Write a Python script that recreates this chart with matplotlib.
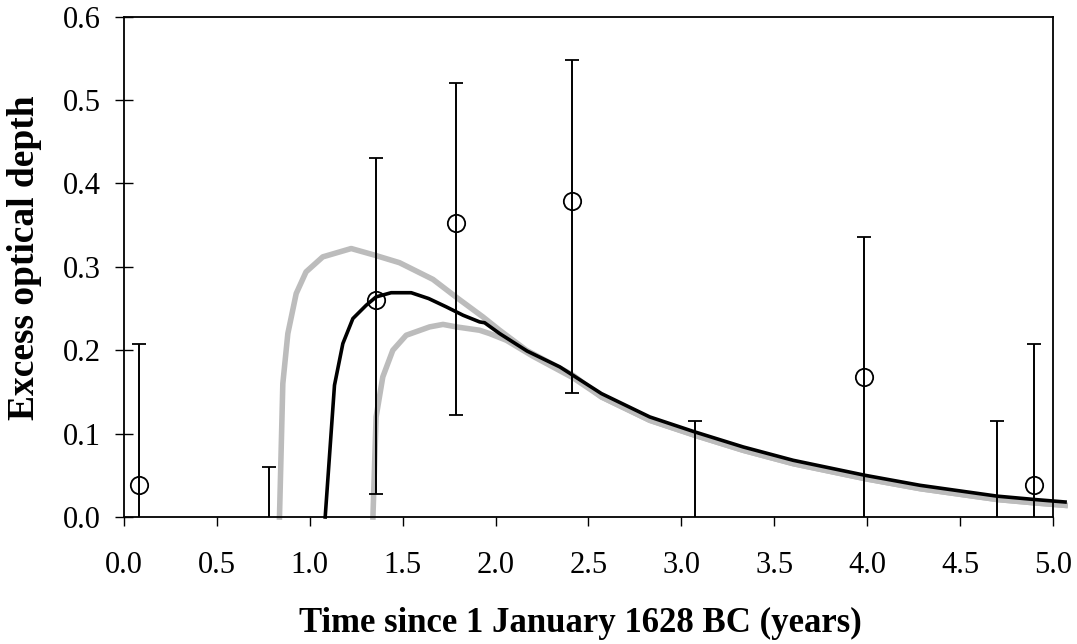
"""
Excess optical depth after 1 January 1628 BC: model curve with bounds and observations.
"""

import matplotlib.pyplot as plt

plt.rcParams["font.family"] = ["Liberation Serif", "DejaVu Serif"]

# ---------------------------------------------------------------------
# data
# ---------------------------------------------------------------------
model_t = [1.083, 1.133, 1.178, 1.232, 1.304, 1.357, 1.438, 1.546, 1.64, 1.735,
           1.825, 1.914, 1.941, 2.022, 2.17, 2.346, 2.57, 2.83, 3.073, 3.333,
           3.602, 3.989, 4.285, 4.70, 4.90, 5.065]
model_tau = [0.0, 0.158, 0.208, 0.238, 0.254, 0.264, 0.269, 0.269, 0.262, 0.252,
             0.242, 0.234, 0.233, 0.220, 0.199, 0.180, 0.148, 0.120, 0.102, 0.084,
             0.068, 0.050, 0.038, 0.025, 0.021, 0.018]

upper_t = [0.837, 0.855, 0.882, 0.927, 0.980, 1.070, 1.223, 1.35, 1.483, 1.663,
           1.798, 1.932, 2.022, 2.166, 2.417, 2.57, 2.83, 3.073, 3.333, 3.602,
           3.989, 4.285, 4.70, 4.90, 5.065]
upper_tau = [0.0, 0.160, 0.220, 0.268, 0.294, 0.312, 0.322, 0.314, 0.305, 0.285,
             0.262, 0.240, 0.224, 0.200, 0.170, 0.144, 0.116, 0.098, 0.080, 0.064,
             0.046, 0.034, 0.021, 0.017, 0.014]

lower_t = [1.340, 1.357, 1.393, 1.447, 1.519, 1.645, 1.717, 1.789, 1.914, 1.968,
           2.058, 2.2, 2.417, 2.57, 2.83, 3.073, 3.333, 3.602, 3.989, 4.285,
           4.70, 4.90, 5.065]
lower_tau = [0.0, 0.120, 0.168, 0.200, 0.218, 0.228, 0.231, 0.228, 0.224, 0.220,
             0.212, 0.193, 0.167, 0.144, 0.116, 0.098, 0.080, 0.064, 0.046, 0.034,
             0.021, 0.017, 0.014]

obs_t = [0.08, 0.78, 1.354, 1.789, 2.412, 3.075, 3.985, 4.70, 4.90]
obs_tau = [0.038, -0.108, 0.260, 0.353, 0.379, -0.053, 0.168, -0.053, 0.038]
err_low = [0.23, 0.23, 0.232, 0.231, 0.230, 0.23, 0.23, 0.23, 0.23]
err_high = [0.169, 0.168, 0.170, 0.168, 0.169, 0.168, 0.168, 0.168, 0.169]

# ---------------------------------------------------------------------
# plot
# ---------------------------------------------------------------------
fig = plt.figure(figsize=(10.77, 6.44), dpi=100)
ax = fig.add_axes([0.1151, 0.1972, 0.8626, 0.7768])

ax.plot(upper_t, upper_tau, color="#bcbcbc", linewidth=4, clip_on=False, zorder=2)
ax.plot(lower_t, lower_tau, color="#bcbcbc", linewidth=4, clip_on=False, zorder=2)
ax.plot(model_t, model_tau, color="black", linewidth=2.6, clip_on=False, zorder=3)

ax.errorbar(
    obs_t, obs_tau,
    yerr=[err_low, err_high],
    fmt="o",
    markersize=12.5,
    markerfacecolor="none",
    markeredgecolor="black",
    markeredgewidth=1.3,
    ecolor="black",
    elinewidth=1.4,
    capsize=5,
    capthick=1.4,
    zorder=4,
)

ax.set_xlim(0, 5.0)
ax.set_ylim(0, 0.6)
ax.set_xticks([0.0, 0.5, 1.0, 1.5, 2.0, 2.5, 3.0, 3.5, 4.0, 4.5, 5.0])
ax.set_yticks([0.0, 0.1, 0.2, 0.3, 0.4, 0.5, 0.6])
ax.xaxis.set_major_formatter(plt.FormatStrFormatter("%.1f"))
ax.yaxis.set_major_formatter(plt.FormatStrFormatter("%.1f"))
ax.tick_params(axis="x", direction="out", length=6.5, width=1, labelsize=22, pad=18)
ax.tick_params(axis="y", direction="inout", length=13, width=1, labelsize=22, pad=10)
for spine in ax.spines.values():
    spine.set_linewidth(1.3)

ax.set_xlabel("Time since 1 January 1628 BC (years)", fontsize=25, fontweight="bold")
ax.set_ylabel("Excess optical depth", fontsize=27, fontweight="bold")
ax.xaxis.set_label_coords(0.491, -0.180)
ax.yaxis.set_label_coords(-0.088, 0.519)

fig.savefig("out.png", dpi=100)
